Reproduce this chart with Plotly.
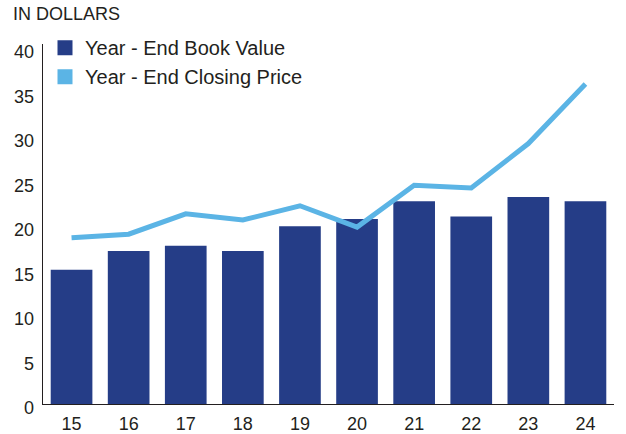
import plotly.graph_objects as go

years = ["15", "16", "17", "18", "19", "20", "21", "22", "23", "24"]
book_value = [15.1, 17.2, 17.8, 17.2, 20.0, 20.8, 22.8, 21.1, 23.3, 22.8]
closing_price = [18.7, 19.1, 21.4, 20.7, 22.3, 19.9, 24.6, 24.3, 29.3, 36.0]
y_ticks = [0, 5, 10, 15, 20, 25, 30, 35, 40]
series_names = ["Year - End Book Value", "Year - End Closing Price"]

dark_blue = "#253D87"
light_blue = "#5BB4E5"
font_family = "Liberation Sans, Arial, sans-serif"
text_color = "#231F20"

fig = go.Figure()
fig.add_trace(go.Bar(x=years, y=book_value, name=series_names[0], showlegend=False,
                     marker=dict(color=dark_blue, line=dict(width=0))))
fig.add_trace(go.Scatter(x=years, y=closing_price, mode="lines", name=series_names[1],
                         showlegend=False, line=dict(color=light_blue, width=5)))
# legend entries as square swatches
for name, col in zip(series_names, [dark_blue, light_blue]):
    fig.add_trace(go.Scatter(x=[None], y=[None], mode="markers", name=name,
                             marker=dict(symbol="square", size=15, color=col)))

annotations = [dict(x=0, xref="paper", y=v, yref="y", text=str(v), showarrow=False,
                    xanchor="right", yanchor="middle", xshift=-7, yshift=-4,
                    font=dict(size=18, color=text_color, family=font_family))
               for v in y_ticks]

fig.update_layout(
    width=626, height=434,
    margin=dict(l=43, r=12, t=44, b=30, autoexpand=False),
    paper_bgcolor="white", plot_bgcolor="white",
    font=dict(family=font_family, size=18, color=text_color),
    bargap=0.27, hovermode=False,
    title=dict(text="IN DOLLARS", x=13/626, xanchor="left", y=1-14/434, yanchor="middle",
               xref="container", yref="container", automargin=False,
               font=dict(size=18, color=text_color, family=font_family)),
    legend=dict(x=0.0035, y=1.044, xanchor="left", yanchor="top",
                font=dict(size=20, color=text_color), bgcolor="rgba(0,0,0,0)",
                tracegroupgap=0, itemsizing="trace"),
    xaxis=dict(showline=True, linecolor=text_color, linewidth=1, ticks="",
               showgrid=False, tickfont=dict(size=18), automargin=False,
               ticklabelstandoff=3),
    yaxis=dict(range=[0, 40.5], tickvals=y_ticks, showticklabels=False,
               showline=True, linecolor=text_color, linewidth=1, ticks="",
               showgrid=False, zeroline=False, automargin=False),
    annotations=annotations,
)

fig.write_html("out.html", config={"displayModeBar": False},
               post_script="document.body.style.margin='0';document.body.style.overflow='hidden';")
